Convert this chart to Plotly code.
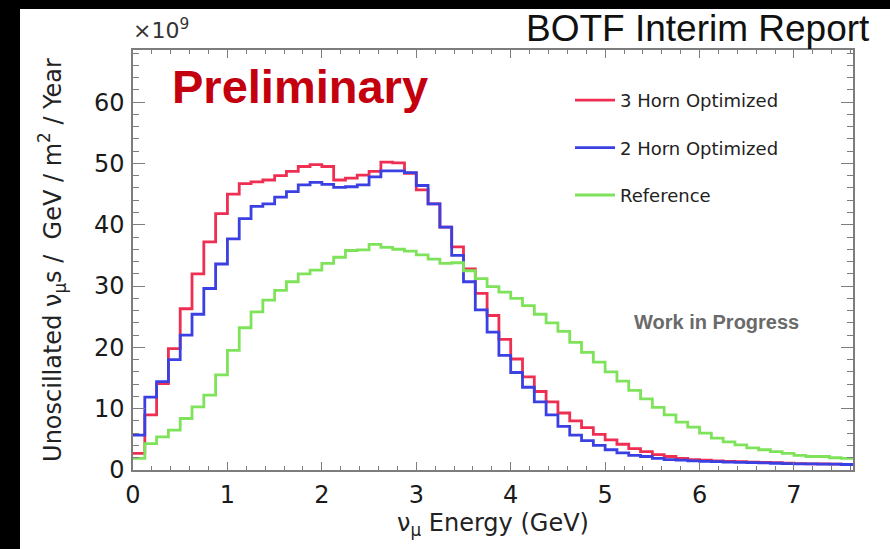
import numpy as np
import plotly.graph_objects as go

# ---- data (x10^9 per GeV per m^2 per year), 0.125 GeV bins from 0 to 7.625 GeV ----
bin_width = 0.125
n_bins = 61
bin_edges = [round(i * bin_width, 3) for i in range(n_bins + 1)]

three_horn = [2.7, 9.0, 14.1, 19.8, 26.3, 32.0, 37.2, 41.8, 45.0, 46.7,
              47.0, 47.3, 48.0, 48.7, 49.5, 49.8, 49.5, 47.3, 47.6, 48.1,
              48.7, 50.2, 50.1, 48.4, 45.7, 43.4, 39.6, 36.4, 32.8, 28.8,
              25.2, 21.3, 18.1, 15.2, 12.8, 11.1, 9.3, 8.0, 6.9, 5.8,
              4.9, 4.2, 3.5, 3.0, 2.5, 2.2, 1.9, 1.7, 1.6, 1.5,
              1.4, 1.35, 1.3, 1.25, 1.2, 1.1, 1.05, 1.0, 1.0, 0.95, 0.9]

two_horn = [5.7, 11.9, 14.4, 18.0, 22.0, 25.4, 29.6, 33.6, 37.7, 41.0,
            43.0, 43.4, 44.5, 45.4, 46.5, 46.9, 46.6, 46.1, 46.2, 46.5,
            47.8, 48.8, 48.8, 48.5, 46.4, 43.4, 39.6, 35.0, 30.7, 26.1,
            22.5, 18.7, 15.9, 13.5, 11.1, 9.0, 7.1, 5.7, 4.8, 4.0,
            3.3, 2.8, 2.4, 2.2, 1.9, 1.7, 1.6, 1.5, 1.4, 1.35,
            1.3, 1.25, 1.2, 1.15, 1.1, 1.05, 1.0, 1.0, 0.95, 0.95, 0.9]

reference = [1.9, 4.3, 5.4, 6.5, 8.4, 10.3, 12.2, 15.5, 19.5, 23.2,
             25.8, 27.7, 29.3, 30.7, 32.0, 32.6, 33.7, 34.7, 35.8, 35.9,
             36.8, 36.3, 36.0, 35.7, 35.1, 34.4, 33.7, 33.8, 32.5, 31.2,
             29.9, 29.0, 28.0, 26.8, 25.4, 24.0, 22.6, 20.8, 19.2, 17.6,
             16.0, 14.5, 13.0, 11.6, 10.2, 9.0, 7.8, 7.0, 6.0, 5.2,
             4.6, 4.1, 3.6, 3.3, 3.0, 2.7, 2.4, 2.2, 2.2, 2.0, 1.9]

series_names = ["3 Horn Optimized", "2 Horn Optimized", "Reference"]
series_values = [three_horn, two_horn, reference]
series_colors = ["#ee2f52", "#3a40e2", "#7ee35a"]

x_ticks = [0, 1, 2, 3, 4, 5, 6, 7]
y_ticks = [0, 10, 20, 30, 40, 50, 60]

# ---- figure ----
W, H = 890, 549
L, R, T, B = 133, 37, 50, 79
pw, ph = W - L - R, H - T - B


def px_x(p):
    return (p - L) / pw


def px_y(p):
    return (H - B - p) / ph


fig = go.Figure()
for name, vals, col in zip(series_names, series_values, series_colors):
    fig.add_trace(go.Scatter(
        x=bin_edges, y=list(vals) + [vals[-1]],
        mode="lines", line=dict(shape="hv", color=col, width=2.8),
        name=name, legendgroup=name, hoverinfo="skip"))

axis_col = "#7d7d7d"
font_main = "DejaVu Sans, Arial, sans-serif"

fig.update_layout(
    width=W, height=H,
    margin=dict(l=L, r=R, t=T, b=B, pad=0),
    paper_bgcolor="white", plot_bgcolor="white",
    showlegend=True,
    legend=dict(x=px_x(570), y=px_y(82), xanchor="left", yanchor="top",
                bgcolor="rgba(0,0,0,0)", borderwidth=0,
                font=dict(family=font_main, size=18, color="#222"),
                tracegroupgap=21, itemwidth=40),
    xaxis=dict(range=[0, bin_edges[-1]], tickvals=x_ticks,
               ticks="inside", ticklen=8, tickwidth=1.2, tickcolor=axis_col,
               minor=dict(ticks="inside", ticklen=4, dtick=0.2, tick0=0,
                          tickcolor=axis_col, tickwidth=1, showgrid=False),
               showline=True, linecolor=axis_col, linewidth=1.5, mirror="ticks",
               showgrid=False, zeroline=False,
               tickfont=dict(family=font_main, size=24, color="#1a1a1a"),
               ticklabelstandoff=2,
               title=dict(text="ν<sub>μ</sub> Energy (GeV)", standoff=2,
                          font=dict(family=font_main, size=24, color="#222"))),
    yaxis=dict(range=[0, 68.5], tickvals=y_ticks,
               ticks="inside", ticklen=12, tickwidth=1.2, tickcolor=axis_col,
               minor=dict(ticks="inside", ticklen=6, dtick=2, tick0=0,
                          tickcolor=axis_col, tickwidth=1, showgrid=False),
               showline=True, linecolor=axis_col, linewidth=1.5, mirror="ticks",
               showgrid=False, zeroline=False,
               tickfont=dict(family=font_main, size=24, color="#1a1a1a"),
               ticklabelstandoff=2,
               title=dict(text="Unoscillated ν<sub>μ</sub>s /  GeV / m<sup>2</sup> / Year",
                          standoff=26,
                          font=dict(family=font_main, size=24, color="#222"))),
)

annotations = [
    dict(text="×10<sup>9</sup>", x=px_x(131), y=px_y(45), xref="paper", yref="paper",
         xanchor="left", yanchor="bottom", showarrow=False,
         font=dict(family=font_main, size=22, color="#333")),
    dict(text="<b>Preliminary</b>", x=px_x(170), y=px_y(86), xref="paper", yref="paper",
         xanchor="left", yanchor="middle", showarrow=False,
         font=dict(family="Liberation Sans, Arial, sans-serif", size=47, color="#c4000f")),
    dict(text="BOTF Interim Report", x=px_x(872), y=px_y(29), xref="paper", yref="paper",
         xanchor="right", yanchor="middle", showarrow=False,
         font=dict(family="Liberation Sans, Arial, sans-serif", size=37, color="#111")),
    dict(text="<b>Work in Progress</b>", x=px_x(716), y=px_y(322), xref="paper", yref="paper",
         xanchor="center", yanchor="middle", showarrow=False,
         font=dict(family="Liberation Sans, Arial, sans-serif", size=20, color="#6a6a6a")),
]
fig.update_layout(annotations=annotations)

# black screenshot borders (left and top)
fig.update_layout(shapes=[
    dict(type="rect", xref="paper", yref="paper", x0=px_x(-5), x1=px_x(20),
         y0=px_y(H + 5), y1=px_y(-5), fillcolor="black", line=dict(width=0), layer="above"),
    dict(type="rect", xref="paper", yref="paper", x0=px_x(-5), x1=px_x(W + 5),
         y0=px_y(9), y1=px_y(-5), fillcolor="black", line=dict(width=0), layer="above"),
])

fig.write_html("out.html")
